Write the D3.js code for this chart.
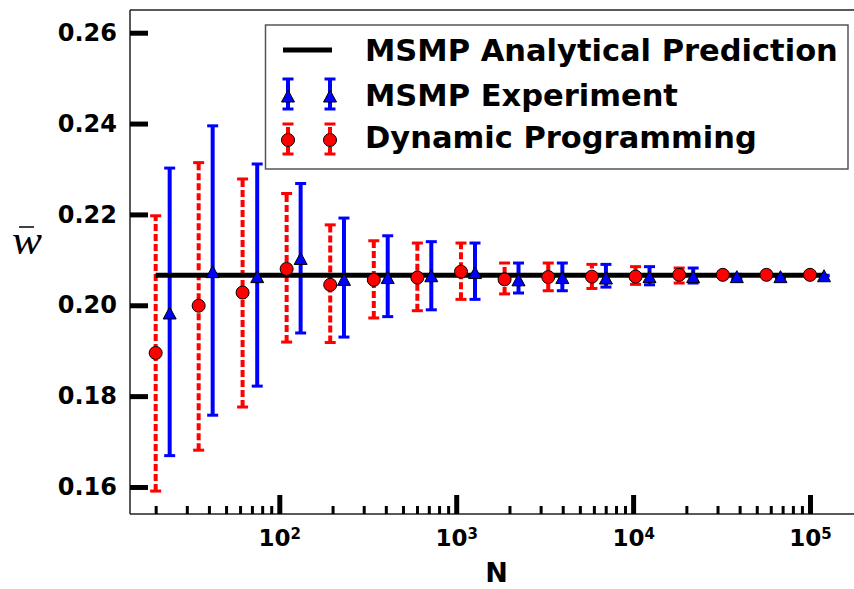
<!DOCTYPE html>
<html>
<head>
<meta charset="utf-8">
<script src="https://cdn.jsdelivr.net/npm/d3@7"></script>
<style>
  body { margin: 0; background: #fff; }
  svg { display: block; font-family: "DejaVu Sans", sans-serif; }
</style>
</head>
<body>
<div id="chart"></div>
<script>
// Data
const analyticalN = [20, 120000];
const analyticalValue = 0.2066;

const dpN    = [20, 35, 62, 110, 194, 342, 603, 1064, 1877, 3313, 5848, 10320, 18210, 32140, 56720, 100000];
const dpMean = [0.1895, 0.1999, 0.2028, 0.2080, 0.2045, 0.2056, 0.2061, 0.2074, 0.2057, 0.2062, 0.2063, 0.2063, 0.2067, 0.2067, 0.2067, 0.2067];
const dpLow  = [0.1591, 0.1681, 0.1776, 0.1919, 0.1918, 0.1972, 0.1988, 0.2013, 0.2025, 0.2032, 0.2037, 0.2046, 0.2049, 0.2062, 0.2064, 0.2066];
const dpHigh = [0.2197, 0.2314, 0.2278, 0.2246, 0.2177, 0.2142, 0.2137, 0.2137, 0.2093, 0.2093, 0.2090, 0.2085, 0.2082, 0.2071, 0.2069, 0.2067];

const msmpN    = [24, 42, 75, 132, 232, 410, 723, 1277, 2250, 3980, 7020, 12380, 21850, 38570, 68060, 120000];
const msmpMean = [0.1983, 0.2074, 0.2063, 0.2103, 0.2057, 0.2061, 0.2065, 0.2072, 0.2056, 0.2061, 0.2060, 0.2063, 0.2063, 0.2063, 0.2063, 0.2065];
const msmpLow  = [0.1669, 0.1758, 0.1822, 0.1939, 0.1930, 0.1975, 0.1990, 0.2013, 0.2027, 0.2032, 0.2040, 0.2045, 0.2049, 0.2058, 0.2061, 0.2064];
const msmpHigh = [0.2302, 0.2395, 0.2311, 0.2268, 0.2192, 0.2153, 0.2140, 0.2137, 0.2093, 0.2093, 0.2090, 0.2085, 0.2082, 0.2068, 0.2066, 0.2066];

const yTicks = [0.16, 0.18, 0.20, 0.22, 0.24, 0.26];
const xMajorTicks = [1e2, 1e3, 1e4, 1e5];
const xMajorExponents = ["2", "3", "4", "5"];
const xMinorTicks = [20, 30, 40, 50, 60, 70, 80, 90,
  200, 300, 400, 500, 600, 700, 800, 900,
  2000, 3000, 4000, 5000, 6000, 7000, 8000, 9000,
  20000, 30000, 40000, 50000, 60000, 70000, 80000, 90000];

const legendLabels = ["MSMP Analytical Prediction", "MSMP Experiment", "Dynamic Programming"];

const RED = "#ff0000", BLUE = "#0000ff";

// Dimensions
const W = 854, H = 589;
const plotLeft = 130, plotRight = 863, plotTop = 10, plotBottom = 514;

const svg = d3.select("#chart").append("svg")
  .attr("width", W).attr("height", H)
  .style("overflow", "hidden");

const x = d3.scaleLog().domain([14.32, 199300]).range([plotLeft, plotRight]);
const y = d3.scaleLinear().domain([0.15405, 0.265]).range([plotBottom, plotTop]);

const dp = dpN.map((n, i) => ({ n, m: dpMean[i], lo: dpLow[i], hi: dpHigh[i] }));
const msmp = msmpN.map((n, i) => ({ n, m: msmpMean[i], lo: msmpLow[i], hi: msmpHigh[i] }));

// triangle marker, bbox-centred like matplotlib's "^"
const triPath = (w, h) => `M0,${-h / 2}L${w / 2},${h / 2}L${-w / 2},${h / 2}Z`;

// Error bars
function errorBars(g, data, color, dashed) {
  const bars = g.append("g");
  bars.selectAll("line.v").data(data).enter().append("line")
    .attr("x1", d => x(d.n)).attr("x2", d => x(d.n))
    .attr("y1", d => y(d.lo)).attr("y2", d => y(d.hi))
    .attr("stroke", color).attr("stroke-width", 4)
    .attr("stroke-dasharray", dashed ? "7,3" : null);
  ["lo", "hi"].forEach(k => {
    bars.selectAll("line.c" + k).data(data).enter().append("line")
      .attr("x1", d => x(d.n) - 5.5).attr("x2", d => x(d.n) + 5.5)
      .attr("y1", d => y(d[k])).attr("y2", d => y(d[k]))
      .attr("stroke", color).attr("stroke-width", 3);
  });
}
errorBars(svg, dp, RED, true);
errorBars(svg, msmp, BLUE, false);

// Analytical prediction line
svg.append("path")
  .datum(analyticalN)
  .attr("d", d3.line().x(d => x(d)).y(() => y(analyticalValue)))
  .attr("stroke", "#000").attr("stroke-width", 5).attr("fill", "none");

// Markers
svg.append("g").selectAll("circle").data(dp).enter().append("circle")
  .attr("cx", d => x(d.n)).attr("cy", d => y(d.m)).attr("r", 6.5)
  .attr("fill", RED).attr("stroke", "#000").attr("stroke-width", 1);

svg.append("g").selectAll("path").data(msmp).enter().append("path")
  .attr("d", triPath(13, 12))
  .attr("transform", d => `translate(${x(d.n)},${y(d.m)})`)
  .attr("fill", BLUE).attr("stroke", "#000").attr("stroke-width", 1);

// Frame (right side falls outside the picture)
const frame = svg.append("g").attr("stroke", "#222").attr("stroke-width", 1.5);
frame.append("line").attr("x1", plotLeft).attr("x2", plotLeft).attr("y1", plotTop).attr("y2", plotBottom);
frame.append("line").attr("x1", plotLeft).attr("x2", plotRight).attr("y1", plotTop).attr("y2", plotTop);
frame.append("line").attr("x1", plotLeft).attr("x2", plotRight).attr("y1", plotBottom).attr("y2", plotBottom);

// Y axis
const yAxis = svg.append("g")
  .attr("transform", `translate(${plotLeft},0)`)
  .call(d3.axisLeft(y).tickValues(yTicks).tickSize(-18).tickPadding(13).tickFormat(d3.format(".2f")));
yAxis.select(".domain").remove();
yAxis.selectAll("line").attr("stroke", "#000").attr("stroke-width", 5);
yAxis.selectAll("text")
  .attr("fill", "#000")
  .style("font-size", "24px").style("font-weight", "bold")
  .style("font-family", "DejaVu Sans, sans-serif");

// X axis: minor ticks
const xMinor = svg.append("g")
  .attr("transform", `translate(0,${plotBottom})`)
  .call(d3.axisBottom(x).tickValues(xMinorTicks).tickSize(-8).tickFormat(""));
xMinor.select(".domain").remove();
xMinor.selectAll("line").attr("stroke", "#000").attr("stroke-width", 3);

// X axis: major ticks with 10^k labels
const xMajor = svg.append("g")
  .attr("transform", `translate(0,${plotBottom})`)
  .call(d3.axisBottom(x).tickValues(xMajorTicks).tickSize(-19).tickPadding(16).tickFormat(""));
xMajor.select(".domain").remove();
xMajor.selectAll("line").attr("stroke", "#000").attr("stroke-width", 5);
xMajor.selectAll("text").each(function (d, i) {
  const t = d3.select(this)
    .attr("fill", "#000")
    .style("font-size", "23px").style("font-weight", "bold")
    .style("font-family", "DejaVu Sans, sans-serif");
  t.append("tspan").text("10");
  t.append("tspan").attr("dy", "-0.5em").style("font-size", "15px").text(xMajorExponents[i]);
});

// Axis labels
svg.append("text")
  .attr("x", (plotLeft + plotRight) / 2).attr("y", 582)
  .attr("text-anchor", "middle")
  .style("font-size", "27px").style("font-weight", "bold")
  .text("N");

svg.append("text")
  .attr("x", 12).attr("y", 254)
  .attr("textLength", 30).attr("lengthAdjust", "spacingAndGlyphs")
  .style("font-family", "Liberation Serif, serif")
  .style("font-style", "italic")
  .style("font-size", "40px")
  .text("w");
svg.append("line")
  .attr("x1", 19).attr("x2", 34).attr("y1", 227).attr("y2", 227)
  .attr("stroke", "#000").attr("stroke-width", 1.5);

// Legend
const legend = svg.append("g");
legend.append("rect")
  .attr("x", 265.5).attr("y", 25).attr("width", 582.5).attr("height", 144)
  .attr("fill", "#fff").attr("stroke", "#555").attr("stroke-width", 1.5);

legend.append("line")
  .attr("x1", 283).attr("x2", 332).attr("y1", 50).attr("y2", 50)
  .attr("stroke", "#000").attr("stroke-width", 5);

[288, 330].forEach(px => {
  // MSMP experiment sample
  legend.append("line").attr("x1", px).attr("x2", px).attr("y1", 79).attr("y2", 109)
    .attr("stroke", BLUE).attr("stroke-width", 4);
  [79, 109].forEach(cy => legend.append("line")
    .attr("x1", px - 5.5).attr("x2", px + 5.5).attr("y1", cy).attr("y2", cy)
    .attr("stroke", BLUE).attr("stroke-width", 3));
  legend.append("path").attr("d", triPath(13, 12))
    .attr("transform", `translate(${px},96)`)
    .attr("fill", BLUE).attr("stroke", "#000").attr("stroke-width", 1);

  // Dynamic programming sample
  legend.append("line").attr("x1", px).attr("x2", px).attr("y1", 154).attr("y2", 124)
    .attr("stroke", RED).attr("stroke-width", 4).attr("stroke-dasharray", "7,3");
  [124, 154].forEach(cy => legend.append("line")
    .attr("x1", px - 5.5).attr("x2", px + 5.5).attr("y1", cy).attr("y2", cy)
    .attr("stroke", RED).attr("stroke-width", 3));
  legend.append("circle").attr("cx", px).attr("cy", 140).attr("r", 6.5)
    .attr("fill", RED).attr("stroke", "#000").attr("stroke-width", 1);
});

legend.selectAll("text.lbl").data(legendLabels).enter().append("text")
  .attr("x", 365).attr("y", (d, i) => [61, 106, 148][i])
  .style("font-size", "30.5px").style("font-weight", "bold")
  .text(d => d);
</script>
</body>
</html>
